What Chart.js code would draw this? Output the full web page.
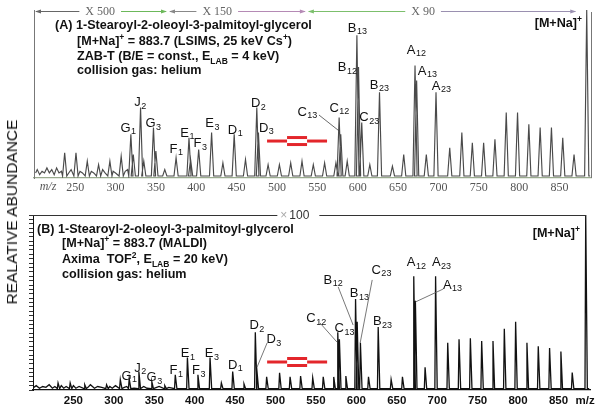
<!DOCTYPE html>
<html>
<head>
<meta charset="utf-8">
<script src="https://cdn.jsdelivr.net/npm/chart.js@4.4.1/dist/chart.umd.min.js"></script>
<style>
 html,body{margin:0;padding:0;background:#fff;}
 #wrap{position:relative;width:604px;height:411px;overflow:hidden;font-family:"Liberation Sans",Arial,sans-serif;color:#111;}
 canvas{position:absolute;left:0;}
 .t{position:absolute;white-space:nowrap;font-weight:bold;font-size:12.6px;line-height:14px;}
 .t sup,.t sub{font-size:8.5px;line-height:0;}
 #ylab{position:absolute;left:12px;top:212px;white-space:nowrap;font-size:15.5px;transform:translate(-50%,-50%) rotate(-90deg);}
</style>
</head>
<body>
<div id="wrap">
 <canvas id="ca" width="604" height="200" style="top:0"></canvas>
 <canvas id="cb" width="604" height="211" style="top:200px"></canvas>

 <div class="t" style="left:55px;top:18px">(A) 1-Stearoyl-2-oleoyl-3-palmitoyl-glycerol</div>
 <div class="t" style="left:77px;top:34px">[M+Na]<sup>+</sup> = 883.7 (LSIMS, 25 keV Cs<sup>+</sup>)</div>
 <div class="t" style="left:77px;top:49px">ZAB-T (B/E = const., E<sub>LAB</sub> = 4 keV)</div>
 <div class="t" style="left:77px;top:63px">collision gas: helium</div>
 <div class="t" style="right:22px;top:16px">[M+Na]<sup>+</sup></div>

 <div class="t" style="left:37px;top:222px">(B) 1-Stearoyl-2-oleoyl-3-palmitoyl-glycerol</div>
 <div class="t" style="left:62px;top:236px">[M+Na]<sup>+</sup> = 883.7 (MALDI)</div>
 <div class="t" style="left:62px;top:252px">Axima&nbsp; TOF<sup>2</sup>, E<sub>LAB</sub> = 20 keV)</div>
 <div class="t" style="left:62px;top:267px">collision gas: helium</div>
 <div class="t" style="right:24px;top:226px">[M+Na]<sup>+</sup></div>

 <div id="ylab">REALATIVE ABUNDANCE</div>
</div>
<script>
// panel A: LSIMS, ZAB-T linked scan (m/z, displayed abundance %)
const peaksA_mz  = [237,251,265,279,293,307,319,322,331,335,347,350,361,375,391,393,403,419,433,447,461,475,477,489,503,517,531,545,559,573,577,579,587,599,601,605,615,627,643,657,671,673,685,697,714,729,742,756,770,784,798,812,826,840,854,868,883.7];
const peaksA_int = [15,15,10,8,10,13,26,14,42,10,30,16,5,12,24,11,17,27,9,26,11,42,27,8,8,9,10,8,9,9,36,26,10,85,66,33,8,51,7,14,67,58,14,51,18,27,21,21,23,39,39,32,30,30,24,14,100];
const noiseA_mz  = [201,203,206,209,212,215,218,221,224,227,230,233,242,245,256,259,270,273,284,287,297,300,312,315];
const noiseA_int = [3,5,2,4,3,6,3,5,2,6,3,4,3,5,4,3,4,3,5,3,4,3,4,5];

// panel B: MALDI TOF/TOF
const peaksB_mz  = [231,246,264,291,308,319,331,347,363,376,391,404,419,433,447,461,475,477,489,505,518,531,546,559,572,577,579,587,599,601,605,615,627,643,657,671,673,685,698,713,727,741,755,769,783,797,811,825,839,853,867,883.7];
const peaksB_int = [4,4,3,3,6,6.4,10.6,4.8,2.5,8.7,18.5,8.7,18.5,4,10.6,3.5,33,13.3,7.5,9.8,7.5,8,7,7.5,7.5,33,29,8,52,39,27,7.5,36,6,7.5,65,51,13,65,27,29,29.5,28,28,35,39,27,25,24,22,10,100];
const noiseB_mz  = [201,204,208,212,216,220,224,227,235,238,241,250,253,257,268,271,276,280,285,295,298,302,313,316,325,337,341,353,356,368];
const noiseB_int = [1.5,2.5,1,2,1.5,3,1,2,2.5,1,2,2.5,1,2,1.5,3,1,2,1.5,2,1,2.5,1.5,2,1,2,1,1.5,2,1.5];

const tickValues = [250,300,350,400,450,500,550,600,650,700,750,800,850];

// magnification zones of the LSIMS scan
const magA = [[199,365,'X 500',281],[365,537,'X 150',426],[537,872,'X 90',681]];

// peak labels: letter, subscript, m/z, abundance where the label sits
const labelsA = [['G','1',315.5,29.8],['J','2',330.3,45.2],['G','3',346.5,32.7],['F','1',375,17.3],['E','1',388.6,26.8],
 ['F','3',404.7,20.8],['E','3',419.6,32.7],['D','1',448,28.6],['D','2',476.6,44.6],['D','3',486.5,29.8],['C','13',537.3,39.3],
 ['C','12',577,41.7],['C','23',614,36.3],['B','12',586.9,66],['B','13',599.3,89.3],['B','23',626.5,55.4],
 ['A','12',672.4,76.2],['A','13',686,63.7],['A','23',703.3,54.8]];
const leadersA = [[552,37.5,577,28]];
const labelsB = [['G','1',318.8,8],['J','2',332.4,12.6],['G','3',349.8,7.4],['F','1',377,11.4],['E','1',391.2,21],
 ['F','3',404.8,11.4],['E','3',420.9,21],['D','1',450,14.3],['D','2',476.6,37],['D','3',497.6,29],['C','12',550,41],
 ['C','13',585,35.4],['B','23',632,39],['B','12',571,62.9],['B','13',603.5,55.4],['C','23',630.7,68.6],
 ['A','12',674,73],['A','23',705,73],['A','13',718.6,60]];
const leadersB = [[489.6,26.9,477.2,13.1],[555,38.3,576,27.4],[577.5,58.9,596,37.1],[619.6,62.9,604.7,26.9],[707.4,57.7,673,50.3]];

function spectrum(mz, it, nmz, nit, base, wl, wr){
  const ev=[];
  mz.forEach((m,i)=>ev.push({c:m,p:[{x:m-wl,y:base},{x:m,y:it[i]},{x:m+wr,y:base}]}));
  nmz.forEach((m,i)=>ev.push({c:m,p:[{x:m,y:nit[i]}]}));
  ev.sort((a,b)=>a.c-b.c);
  const out=[]; ev.forEach(e=>out.push(...e.p)); out.push({x:888,y:base});
  return out;
}

function drawSub(ctx,x,y,l,big,small){
  ctx.font=big; const w1=ctx.measureText(l[0]).width;
  ctx.font=small; const w2=ctx.measureText(l[1]).width;
  const px=x-(w1+w2)/2;
  ctx.textBaseline='middle'; ctx.textAlign='left';
  ctx.font=big; ctx.fillText(l[0],px,y);
  ctx.font=small; ctx.fillText(l[1],px+w1+0.5,y+4);
}

const labPlugin={
  id:'lab',
  afterDatasetsDraw(chart,args,o){
    const {ctx,scales:{x,y}}=chart;
    ctx.save();
    ctx.strokeStyle=o.lineColor; ctx.lineWidth=0.8;
    o.leaders.forEach(l=>{ctx.beginPath();ctx.moveTo(x.getPixelForValue(l[0]),y.getPixelForValue(l[1]));
      ctx.lineTo(x.getPixelForValue(l[2]),y.getPixelForValue(l[3]));ctx.stroke();});
    ctx.fillStyle='#111';
    o.labels.forEach(l=>drawSub(ctx,x.getPixelForValue(l[2]),y.getPixelForValue(l[3]),l,'13px "Liberation Sans"','9px "Liberation Sans"'));
    // red break symbol
    const sx=x.getPixelForValue(o.brk[0]), sy=y.getPixelForValue(o.brk[1]);
    ctx.strokeStyle='#e3262b'; ctx.lineWidth=3;
    [[0,20,0],[20,40,-3.5],[20,40,3.5],[40,60,0]].forEach(s=>{ctx.beginPath();ctx.moveTo(sx+s[0],sy+s[2]);ctx.lineTo(sx+s[1],sy+s[2]);ctx.stroke();});
    ctx.restore();
  }
};

function arrow(ctx,x,y,dir){ctx.beginPath();ctx.moveTo(x,y);ctx.lineTo(x-dir*6,y-2);ctx.lineTo(x-dir*6,y+2);ctx.closePath();ctx.fill();}

const frameA={
  id:'frameA',
  afterDraw(chart){
    const {ctx,chartArea:a,scales:{x}}=chart;
    ctx.save();
    ctx.strokeStyle='#777'; ctx.lineWidth=1;
    ctx.beginPath(); ctx.moveTo(a.right+0.5,a.top+2); ctx.lineTo(a.right+0.5,a.bottom); ctx.stroke();
    const ty=a.top+1.5;
    const cols=[['#666','#6cb85a'],['#888','#b58ab5'],['#7cbf6c','#9a90b0']];
    ctx.font='12px "Liberation Serif"'; ctx.textBaseline='middle'; ctx.textAlign='center';
    magA.forEach((g,i)=>{
      const x0=x.getPixelForValue(g[0]), x1=x.getPixelForValue(g[1]), xt=x.getPixelForValue(g[3]);
      const tw=ctx.measureText(g[2]).width;
      ctx.lineWidth=1;
      ctx.strokeStyle=cols[i][0]; ctx.beginPath(); ctx.moveTo(x0+2,ty); ctx.lineTo(xt-tw/2-6,ty); ctx.stroke();
      ctx.strokeStyle=cols[i][1]; ctx.beginPath(); ctx.moveTo(xt+tw/2+6,ty); ctx.lineTo(x1-2,ty); ctx.stroke();
      ctx.fillStyle=cols[i][0]; arrow(ctx,x0+1,ty,-1);
      ctx.fillStyle=cols[i][1]; arrow(ctx,x1-1,ty,1);
      ctx.fillStyle='#666'; ctx.fillText(g[2],xt,ty);
    });
    ctx.font='italic 12px "Liberation Serif"'; ctx.fillStyle='#555';
    ctx.fillText('m/z',a.left+14,a.bottom+9);
    ctx.restore();
  }
};

const frameB={
  id:'frameB',
  afterDraw(chart){
    const {ctx,chartArea:a,scales:{x}}=chart;
    ctx.save();
    const xt=x.getPixelForValue(527), ty=a.top;
    ctx.strokeStyle='#333'; ctx.lineWidth=1;
    ctx.beginPath(); ctx.moveTo(a.left-2,ty+0.5); ctx.lineTo(xt-20,ty+0.5); ctx.moveTo(xt+22,ty+0.5); ctx.lineTo(x.getPixelForValue(884),ty+0.5); ctx.stroke();
    ctx.font='12px "Liberation Sans"'; ctx.textBaseline='middle'; ctx.textAlign='left';
    ctx.fillStyle='#aaa'; ctx.fillText('\u00d7',xt-17,ty+1);
    ctx.fillStyle='#333'; ctx.fillText('100',xt-8,ty+1);
    ctx.font='bold 11.5px "Liberation Sans"'; ctx.fillStyle='#111'; ctx.textAlign='center';
    ctx.fillText('m/z',x.getPixelForValue(883),a.bottom+11);
    ctx.restore();
  }
};

function baseOpts(){
  return {responsive:false,animation:false,events:[],
    plugins:{legend:{display:false},tooltip:{enabled:false}},
    elements:{point:{radius:0},line:{tension:0}}};
}

const optA=baseOpts();
optA.layout={padding:{left:34,right:13,top:10,bottom:0}};
optA.scales={
  x:{type:'linear',min:199,max:889,afterFit:s=>{s.height=22;},
     grid:{display:false,drawTicks:false},border:{display:true,color:'#9aab8f',width:1.3},
     ticks:{includeBounds:false,stepSize:50,autoSkip:false,maxRotation:0,padding:3,color:'#555',
       font:{family:'Liberation Serif',size:12},callback:v=>tickValues.includes(v)?v:''}},
  y:{min:0,max:100,afterFit:s=>{s.width=0;},ticks:{display:false},
     grid:{display:false,drawTicks:false},border:{display:true,color:'#777'}}
};
optA.plugins.lab={labels:labelsA,leaders:leadersA,lineColor:'#444',brk:[487.7,22]};

new Chart(document.getElementById('ca'),{type:'line',
  data:{datasets:[{data:spectrum(peaksA_mz,peaksA_int,noiseA_mz,noiseA_int,1.2,2.6,2.6),borderColor:'#4a4a4a',borderWidth:1.15}]},
  options:optA,plugins:[labPlugin,frameA]});

const optB=baseOpts();
optB.layout={padding:{left:29,right:14,top:15,bottom:0}};
optB.scales={
  x:{type:'linear',min:200,max:889,afterFit:s=>{s.height=21;},
     grid:{display:false,drawTicks:false},border:{display:true,color:'#111',width:1.2},
     ticks:{includeBounds:false,stepSize:50,autoSkip:false,maxRotation:0,padding:4,color:'#111',
       font:{family:'Liberation Sans',size:11.5,weight:'bold'},callback:v=>tickValues.includes(v)?v:''}},
  y:{min:0,max:100,afterFit:s=>{s.width=4;},ticks:{display:false,stepSize:2.5},
     grid:{display:true,drawOnChartArea:false,drawTicks:true,tickLength:4,color:'#333'},border:{display:true,color:'#111'}}
};
optB.plugins.lab={labels:labelsB,leaders:leadersB,lineColor:'#555',brk:[489.6,16]};

new Chart(document.getElementById('cb'),{type:'line',
  data:{datasets:[{data:spectrum(peaksB_mz,peaksB_int,noiseB_mz,noiseB_int,0.8,0.9,2.0),borderColor:'#111',borderWidth:1.3}]},
  options:optB,plugins:[labPlugin,frameB]});
</script>
</body>
</html>
